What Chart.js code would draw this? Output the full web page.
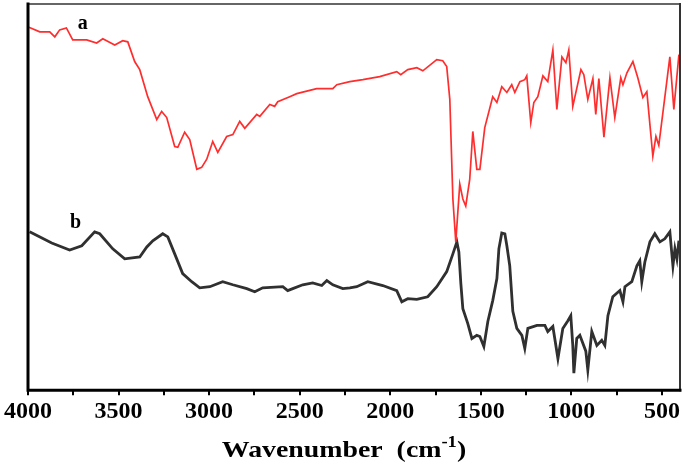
<!DOCTYPE html>
<html><head><meta charset="utf-8">
<script src="https://cdn.jsdelivr.net/npm/chart.js@4.4.1/dist/chart.umd.min.js"></script>
<style>html,body{margin:0;padding:0;background:#fff}#wrap{width:685px;height:463px;position:relative}</style>
</head><body><div id="wrap"><canvas id="c"></canvas></div>
<script>
// Spectrum a (red)
const aWave=[3995,3935,3880,3852,3825,3788,3753,3676,3621,3587,
3521,3477,3449,3411,3383,3339,3289,3262,3234,3190,
3173,3135,3107,3068,3041,3013,2980,2952,2903,2869,
2831,2803,2737,2720,2665,2638,2621,2555,2516,2406,
2317,2295,2223,2151,2058,1964,1942,1903,1853,1820,
1743,1710,1688,1671,1654,1638,1616,1599,1583,1561,
1544,1522,1505,1478,1434,1411,1384,1356,1329,1312,
1284,1257,1246,1224,1207,1185,1157,1130,1102,1080,
1052,1030,1014,992,947,931,909,881,865,848,
820,787,760,727,715,693,660,633,605,583,
550,533,517,456,434,406];
const aT=[94.0,92.8,92.8,91.5,93.3,93.8,90.7,90.7,89.9,91.0,
89.4,90.5,90.2,85.1,83.0,76.0,70.1,72.2,70.6,63.1,
62.9,66.8,64.9,57.2,57.7,59.8,64.4,61.6,65.7,66.2,
69.6,67.8,71.4,70.9,74.0,73.5,74.7,76.0,76.8,78.1,
78.1,79.1,79.9,80.4,81.2,82.5,81.7,83.0,83.5,82.7,
85.6,85.3,83.8,75.3,49.5,38.4,53.4,49.5,47.7,54.6,
67.0,57.2,57.2,68.0,76.0,74.5,78.6,77.1,79.1,77.1,
79.9,80.4,81.4,69.3,74.5,76.0,81.4,79.9,88.1,72.7,
86.3,84.8,88.1,73.5,83.0,81.7,75.3,80.7,71.4,80.7,
65.5,80.9,70.6,80.9,79.1,82.2,85.1,80.9,75.8,77.3,
60.6,65.7,63.4,86.3,72.7,86.9];
// Spectrum b (black)
const bWave=[3991,3869,3770,3703,3632,3604,3532,3466,3383,3344,
3311,3256,3228,3190,3146,3096,3052,2996,2925,2869,
2792,2748,2704,2593,2566,2538,2483,2428,2378,2350,
2317,2262,2223,2185,2124,2041,1964,1936,1903,1853,
1793,1743,1688,1654,1632,1621,1610,1599,1572,1549,
1522,1505,1483,1461,1434,1411,1400,1384,1367,1356,
1340,1323,1301,1273,1257,1240,1190,1146,1130,1102,
1074,1047,1019,1003,992,986,970,953,920,909,
887,859,832,815,798,771,732,715,704,666,
638,622,611,594,566,539,511,484,456,439,
428,417,406];
const bT=[41.0,38.1,36.3,37.4,41.0,40.5,36.6,34.0,34.5,37.1,
38.7,40.5,39.7,35.3,30.2,28.1,26.5,26.8,28.1,27.3,
26.3,25.5,26.5,26.8,25.8,26.3,27.3,27.8,27.1,28.4,
27.3,26.3,26.5,26.8,28.1,27.1,25.8,22.9,23.7,23.5,
24.2,26.8,30.7,35.3,38.4,35.8,27.6,21.1,17.3,13.4,
14.2,13.9,11.3,17.8,23.2,28.9,36.6,40.7,40.5,37.4,
32.2,20.4,16.0,14.2,10.8,16.0,16.8,16.8,15.2,16.5,
8.2,16.0,18.0,19.3,11.6,4.4,13.4,14.2,10.1,5.2,
15.2,11.6,12.9,11.6,19.3,24.2,25.8,22.9,26.8,28.1,
32.2,33.5,28.1,33.2,38.4,40.5,38.4,39.2,41.0,32.2,
36.6,34.0,38.7];
// Axis ticks
const xTickValues=[500,750,1000,1250,1500,1750,2000,2250,2500,2750,3000,3250,3500,3750,4000];
const xLabelValues=[500,1000,1500,2000,2500,3000,3500,4000];
const seriesNames=['a','b'];
const seriesNameWave=[3698,3737];
const seriesNameT=[94.8,43.3];

const toPts=(xs,ys)=>xs.map((x,i)=>({x:x,y:ys[i]}));
const SERIF="'Liberation Serif','Times New Roman',serif";

const framePlugin={id:'frame',afterDatasetsDraw(chart){
  const ctx=chart.ctx,ca=chart.chartArea;
  ctx.save();
  ctx.lineCap='square';
  ctx.strokeStyle='#666';ctx.lineWidth=2;
  ctx.beginPath();ctx.moveTo(ca.left,ca.top);ctx.lineTo(ca.right,ca.top);ctx.stroke();
  ctx.strokeStyle='#333';ctx.lineWidth=2;
  ctx.beginPath();ctx.moveTo(ca.right,ca.top);ctx.lineTo(ca.right,ca.bottom);ctx.stroke();
  ctx.strokeStyle='#000';ctx.lineWidth=3;
  ctx.beginPath();ctx.moveTo(ca.left,ca.top);ctx.lineTo(ca.left,ca.bottom);ctx.lineTo(ca.right,ca.bottom);ctx.stroke();
  // series letters
  const xs=chart.scales.x,ys=chart.scales.y;
  ctx.fillStyle='#000';ctx.font='bold 20px '+SERIF;ctx.textAlign='center';ctx.textBaseline='middle';
  seriesNames.forEach((n,i)=>ctx.fillText(n,xs.getPixelForValue(seriesNameWave[i]),ys.getPixelForValue(seriesNameT[i])));
  // axis title with superscript (slightly widened like the reference)
  const cx=(ca.left+ca.right)/2-10, by=457, sx=1.16;
  const main='Wavenumber  (cm', sup='-1', close=')';
  ctx.font='bold 24px '+SERIF;
  const w1=ctx.measureText(main).width, w3=ctx.measureText(close).width;
  ctx.font='bold 16px '+SERIF;
  const w2=ctx.measureText(sup).width;
  ctx.translate(cx,0);ctx.scale(sx,1);
  let x=-(w1+w2+w3)/2;
  ctx.textAlign='left';ctx.textBaseline='alphabetic';
  ctx.font='bold 24px '+SERIF;ctx.fillText(main,x,by);x+=w1;
  ctx.font='bold 16px '+SERIF;ctx.fillText(sup,x,by-10);x+=w2;
  ctx.font='bold 24px '+SERIF;ctx.fillText(close,x,by);
  ctx.restore();
}};

new Chart(document.getElementById('c'),{
  type:'line',
  data:{datasets:[
    {label:'a',data:toPts(aWave,aT),borderColor:'#ff2e2e',borderWidth:1.7,pointRadius:0,tension:0,fill:false},
    {label:'b',data:toPts(bWave,bT),borderColor:'#303030',borderWidth:2.8,pointRadius:0,tension:0,fill:false}
  ]},
  options:{
    responsive:true,maintainAspectRatio:false,animation:false,
    layout:{padding:{left:28,right:5,top:4,bottom:35}},
    plugins:{legend:{display:false},tooltip:{enabled:false}},
    scales:{
      x:{type:'linear',reverse:true,min:400,max:4000,
        afterBuildTicks:(s)=>{s.ticks=xTickValues.map(v=>({value:v}));},
        border:{display:false},
        grid:{drawOnChartArea:false,drawTicks:true,tickLength:5,color:'#000',lineWidth:2},
        ticks:{autoSkip:false,maxRotation:0,padding:2,color:'#000',
          font:{family:SERIF,size:24,weight:'bold'},
          callback:(v)=>xLabelValues.includes(v)?String(v):''}
      },
      y:{display:false,min:0,max:100}
    }
  },
  plugins:[framePlugin]
});
</script></body></html>
